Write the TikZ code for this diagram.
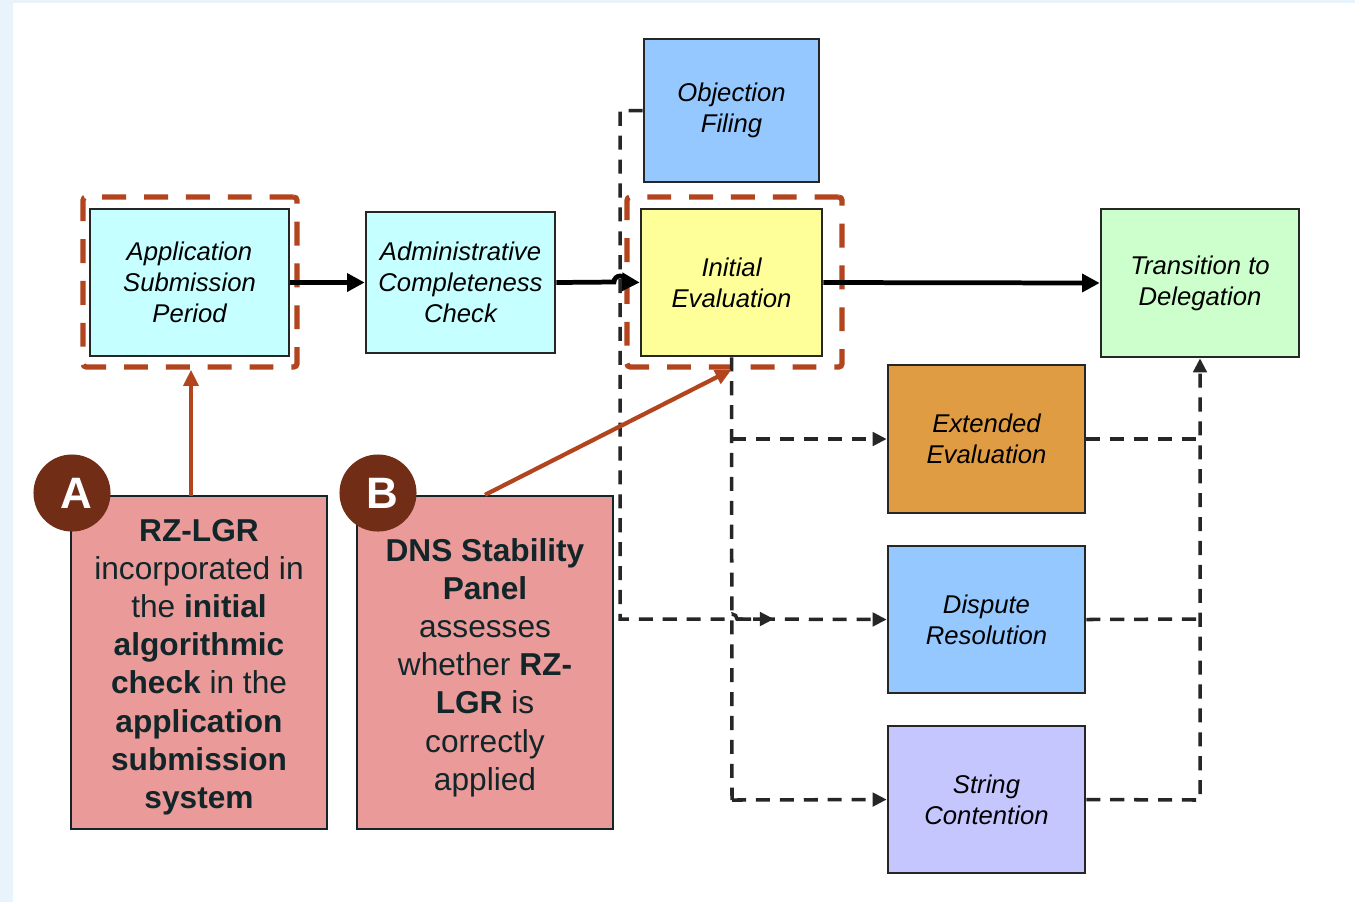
\documentclass[tikz,border=0pt]{standalone}
\usepackage{fontspec}
\setmainfont{Liberation Sans}
\usetikzlibrary{arrows.meta}

\definecolor{bgblue}{HTML}{E9F3FC}
\definecolor{boxcyan}{HTML}{C6FFFF}
\definecolor{boxyellow}{HTML}{FFFF99}
\definecolor{boxblue}{HTML}{94C8FF}
\definecolor{boxgreen}{HTML}{CCFFCC}
\definecolor{boxorange}{HTML}{E09C42}
\definecolor{boxlilac}{HTML}{C6C6FF}
\definecolor{notepink}{HTML}{EA9A98}
\definecolor{notebrown}{HTML}{722D16}
\definecolor{rust}{HTML}{B2441E}
\definecolor{inkdark}{HTML}{12262A}

\begin{document}
\begin{tikzpicture}[x=0.01cm, y=-0.01cm]
    % Styles
    \tikzstyle{stage} = [rectangle, draw=black!85, line width=0.7pt, align=center, inner sep=0pt, font=\fontsize{7.3}{8.8}\selectfont\itshape]
    \tikzstyle{frame} = [rectangle, draw=rust, line width=1.5pt, dash pattern=on 6.8pt off 5.1pt, rounded corners=1pt, inner sep=0pt]
    \tikzstyle{note} = [rectangle, draw=inkdark, line width=0.6pt, fill=notepink, inner sep=0pt, minimum width=2.56cm, minimum height=3.33cm]
    \tikzstyle{notetext} = [text=inkdark, align=center, inner sep=0pt, font=\fontsize{9}{10.85}\selectfont]
    \tikzstyle{badge} = [circle, fill=notebrown, text=white, inner sep=0pt, minimum size=0.77cm, font=\fontsize{12.5}{14}\selectfont\bfseries]
    \tikzstyle{arrow} = [-{Triangle[length=5pt, width=5pt]}, line width=1.35pt, black]
    \tikzstyle{dasharrow} = [-{Triangle[length=4pt, width=3.8pt]}, line width=1pt, black!85, dash pattern=on 4pt off 2.8pt]
    \tikzstyle{dashline} = [line width=1pt, black!85, dash pattern=on 4pt off 2.8pt]
    \tikzstyle{pointer} = [-{Triangle[length=4.6pt, width=4.2pt]}, line width=1.2pt, rust]

    % Background
    \fill[bgblue] (0,0) rectangle (1355,902);
    \fill[white] (13,3) rectangle (1355,902);
    \useasboundingbox (0,0) rectangle (1355,902);

    % Stages
    \node[stage, fill=boxcyan, minimum width=1.99cm, minimum height=1.47cm] (app) at (189.5,282.5) {Application\\Submission\\Period};
    \node[stage, fill=boxcyan, minimum width=1.89cm, minimum height=1.41cm] (admin) at (460.5,282.5) {Administrative\\Completeness\\Check};
    \node[stage, fill=boxblue, minimum width=1.75cm, minimum height=1.43cm] (obj) at (731.5,110.5) {Objection\\Filing};
    \node[stage, fill=boxyellow, minimum width=1.81cm, minimum height=1.47cm] (init) at (731.5,282.5) {Initial\\Evaluation};
    \node[stage, fill=boxgreen, minimum width=1.98cm, minimum height=1.48cm] (trans) at (1200,283) {Transition to\\Delegation};
    \node[stage, fill=boxorange, minimum width=1.97cm, minimum height=1.48cm] (ext) at (986.5,439) {Extended\\Evaluation};
    \node[stage, fill=boxblue, minimum width=1.97cm, minimum height=1.47cm] (disp) at (986.5,619.5) {Dispute\\Resolution};
    \node[stage, fill=boxlilac, minimum width=1.97cm, minimum height=1.47cm] (str) at (986.5,799.5) {String\\Contention};

    % Highlight frames
    \node[frame, minimum width=2.14cm, minimum height=1.70cm] (appframe) at (190,282) {};
    \node[frame, minimum width=2.15cm, minimum height=1.70cm] (initframe) at (734.5,282) {};

    % Main flow
    \draw[arrow] (app.east) -- (admin.west);
    \draw[arrow] (admin.east) -- (614,282) arc[start angle=180, end angle=360, radius=6] -- (init.west);
    \draw[arrow] (init.east) -- (trans.west);

    % Objection path
    \draw[dasharrow] (obj.west) -- (620,110.5) -- (620,619) -- (727,619) arc[start angle=180, end angle=360, radius=5] -- (774,619);

    % Branches from initial evaluation
    \draw[dashline] (init.south) -- (732,800);
    \draw[dasharrow] (732,439) -- (ext.west);
    \draw[dasharrow] (737,619) -- (disp.west);
    \draw[dasharrow] (732,800) -- (str.west);

    % Back to transition
    \draw[dashline] (ext.east) -- (1200,439);
    \draw[dashline] (disp.east) -- (1200,619);
    \draw[dasharrow] (str.east) -- (1200,800) -- (trans.south);

    % Notes
    \node[note] (noteA) at (199,662.5) {};
    \node[notetext] (textA) at ([yshift=-0.045cm]noteA.center) {\textbf{RZ-LGR}\\incorporated in\\the \textbf{initial}\\\textbf{algorithmic}\\\textbf{check} in the\\\textbf{application}\\\textbf{submission}\\\textbf{system}};
    \node[note] (noteB) at (485,662.5) {};
    \node[notetext] (textB) at ([yshift=-0.05cm]noteB.center) {\textbf{DNS Stability}\\\textbf{Panel}\\assesses\\whether \textbf{RZ-}\\\textbf{LGR} is\\correctly\\applied};
    \node[badge] (badgeA) at (72,493) {\hspace*{2.6pt}A};
    \node[badge] (badgeB) at (378,493) {\hspace*{2.6pt}B};

    % Pointers
    \draw[pointer] (191,496) -- (appframe.south -| 191,0);
    \draw[pointer] (noteB.north) -- (init.south |- initframe.south);
\end{tikzpicture}
\end{document}
